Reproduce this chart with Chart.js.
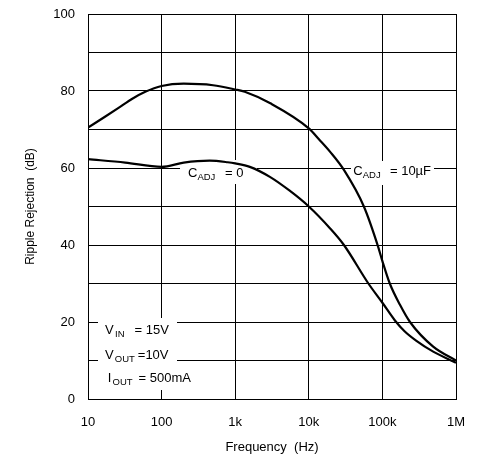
<!DOCTYPE html>
<html>
<head>
<meta charset="utf-8">
<script src="https://cdn.jsdelivr.net/npm/chart.js@4/dist/chart.umd.min.js"></script>
<style>
  body { margin: 0; background: #fff; }
  #wrap { width: 482px; height: 455px; }
</style>
</head>
<body>
<div id="wrap"><canvas id="ripple" width="482" height="455"></canvas></div>
<script>
const FONT = '"Liberation Sans", Arial, sans-serif';

// frequency ticks (Hz) and their labels
const freqTicks = [10, 100, 1000, 10000, 100000, 1000000];
const freqLabels = ['10', '100', '1k', '10k', '100k', '1M'];

// C_ADJ = 10uF
const freq10u = [10, 17, 26, 40, 60, 100, 200, 500, 1000, 1350, 3000, 10000, 14000, 19500, 30000, 56000, 88000, 100000, 126000, 174000, 237000, 490000, 1000000];
const rej10u = [70.5, 73.3, 75.6, 78, 79.8, 81.3, 81.9, 81.5, 80.4, 79.8, 76.8, 70.3, 67.3, 64.2, 59.5, 50, 39.4, 35.8, 30, 24.4, 20, 13.6, 10];

// C_ADJ = 0
const freq0 = [10, 32, 100, 200, 450, 790, 1000, 1580, 2960, 5500, 10000, 19500, 30000, 64500, 100000, 148000, 200000, 290000, 490000, 1000000];
const rej0 = [62.3, 61.4, 60.3, 61.4, 61.9, 61.5, 61.2, 60.3, 57.7, 54.1, 50, 44.3, 40, 30, 25, 20.4, 17.6, 15.1, 12.3, 9.4];

function pts(xs, ys) {
  return xs.map((x, i) => ({ x: x, y: ys[i] }));
}

// draws a run of text pieces: [text, x, baseline, size]
function runs(ctx, pieces) {
  pieces.forEach(p => {
    ctx.font = p[3] + 'px ' + FONT;
    ctx.fillText(p[0], p[1], p[2]);
  });
}

const notes = {
  id: 'notes',
  beforeDatasetsDraw(chart) {
    const ctx = chart.ctx;
    ctx.save();
    ctx.fillStyle = '#fff';
    ctx.fillRect(180, 160, 77, 24);
    ctx.fillRect(351, 161, 83, 24);
    ctx.fillRect(98, 318, 79, 72);
    ctx.fillStyle = '#000';
    ctx.textAlign = 'left';
    ctx.textBaseline = 'alphabetic';
    runs(ctx, [
      ['C', 188, 176.5, 13], ['ADJ', 197.4, 179.5, 9.5], ['= 0', 225, 176.5, 13],
      ['C', 353.3, 175, 13], ['ADJ', 362.7, 178, 9.5], ['= 10', 390, 175, 13], ['\u00b5F', 415.5, 175, 13],
      ['V', 105, 333.7, 13], ['IN', 115, 336.7, 9.5], ['= 15V', 134.5, 333.7, 13],
      ['V', 105, 358.7, 13], ['OUT', 114.8, 361.7, 9.5], ['=10V', 137.8, 358.7, 13],
      ['I', 107.7, 381.7, 13], ['OUT', 112.5, 384.7, 9.5], ['= 500mA', 138.5, 381.7, 13]
    ]);
    ctx.restore();
  }
};

const line = { borderColor: '#000', borderWidth: 2.2, pointRadius: 0, fill: false, cubicInterpolationMode: 'monotone' };

new Chart(document.getElementById('ripple'), {
  type: 'line',
  data: {
    datasets: [
      Object.assign({ label: 'C_ADJ = 10uF', data: pts(freq10u, rej10u) }, line),
      Object.assign({ label: 'C_ADJ = 0', data: pts(freq0, rej0) }, line)
    ]
  },
  options: {
    responsive: false,
    animation: false,
    layout: { padding: { top: 14, right: 26, left: 0, bottom: 0 } },
    plugins: { legend: { display: false }, tooltip: { enabled: false } },
    scales: {
      x: {
        type: 'logarithmic',
        min: 10,
        max: 1000000,
        afterBuildTicks: s => { s.ticks = freqTicks.map(v => ({ value: v })); },
        afterFit: s => { s.height = 56; },
        grid: { color: '#000', lineWidth: 1, drawTicks: false },
        border: { color: '#000', width: 1 },
        ticks: {
          padding: 16,
          color: '#000',
          font: { family: FONT, size: 13 },
          maxRotation: 0,
          callback: v => freqLabels[freqTicks.indexOf(v)]
        },
        title: { display: true, text: 'Frequency  (Hz)', color: '#000', font: { family: FONT, size: 13 }, padding: { top: 0, bottom: 0 } }
      },
      y: {
        min: 0,
        max: 100,
        afterFit: s => { s.width = 88; s.paddingTop = 0; s.paddingBottom = 0; },
        grid: { color: '#000', lineWidth: 1, drawTicks: false },
        border: { color: '#000', width: 1 },
        ticks: {
          stepSize: 10,
          padding: 13,
          color: '#000',
          font: { family: FONT, size: 13 },
          callback: v => (v % 20 === 0 ? v : '')
        },
        title: { display: true, text: 'Ripple Rejection  (dB)', color: '#000', font: { family: FONT, size: 12 }, padding: { top: 23, bottom: 0 } }
      }
    }
  },
  plugins: [notes]
});
</script>
</body>
</html>
